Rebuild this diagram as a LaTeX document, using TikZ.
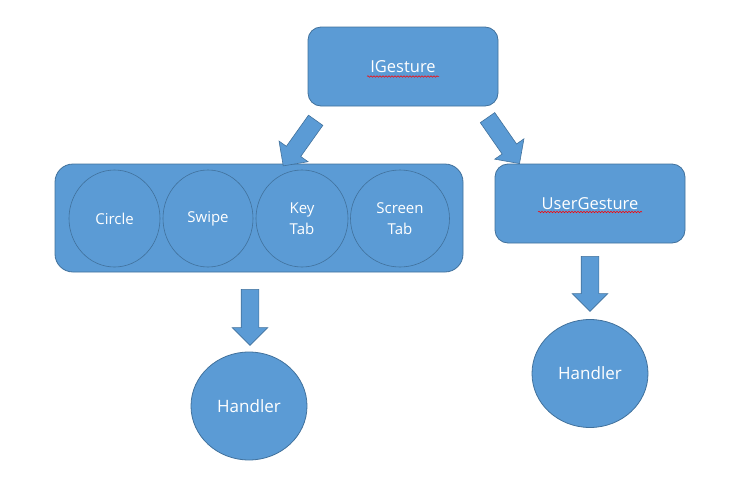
\documentclass[tikz,border=0pt]{standalone}
\usepackage{fontspec}
\setmainfont{Open Sans}
\usetikzlibrary{shapes.arrows,shapes.geometric,decorations.pathmorphing}
\definecolor{boxblue}{HTML}{5B9BD5}
\definecolor{edgeblue}{HTML}{41719C}

\begin{document}
\begin{tikzpicture}[x=1pt, y=-1pt,
		box/.style={draw=edgeblue, fill=boxblue, line width=0.8pt, rounded corners=13pt,
			inner sep=0pt, text=white, font=\fontsize{16.5}{18}\selectfont},
		gest/.style={ellipse, draw=edgeblue, line width=0.6pt, inner sep=0pt, minimum height=97pt,
			text=white, align=center, font=\fontsize{15}{21}\selectfont},
		handler/.style={ellipse, draw=edgeblue, fill=boxblue, line width=0.8pt, inner sep=0pt,
			minimum width=116pt, minimum height=108pt, text=white, font=\fontsize{17}{18}\selectfont},
		fatarrow/.style={single arrow, draw=edgeblue, fill=boxblue, line width=0.6pt,
			inner xsep=0pt, inner ysep=8.5pt, single arrow head extend=9pt, minimum height=56pt,
			midway, sloped, allow upside down},
		squiggle/.style={red, line width=0.5pt, decorate,
			decoration={snake, amplitude=0.8pt, segment length=3pt}}]
	\useasboundingbox (0,0) rectangle (745,485);

	% boxes
	\node[box, minimum width=190pt, minimum height=79pt] (ig) at (403,66.5) {IGesture};
	\node[box, minimum width=408pt, minimum height=108pt, rounded corners=18pt] (grp) at (259,218) {};
	\node[box, minimum width=190pt, minimum height=79pt] (ug) at (590,203.5) {UserGesture};
	\draw[squiggle] ([xshift=-36pt, yshift=-10pt]ig.center) -- ([xshift=36pt, yshift=-10pt]ig.center);
	\draw[squiggle] ([xshift=-52pt, yshift=-8.5pt]ug.center) -- ([xshift=52pt, yshift=-8.5pt]ug.center);

	% gestures inside the group
	\node[gest, minimum width=91pt] (circ) at (114.5,218.5) {Circle};
	\node[gest, minimum width=90pt] (swipe) at (208,218.5) {Swipe};
	\node[gest, minimum width=92pt] (keytab) at (302,218.5) {Key\\Tab};
	\node[gest, minimum width=99pt] (scrtab) at (400,218.5) {Screen\\Tab};

	% handlers
	\node[handler] (hl) at (249,406) {Handler};
	\node[handler] (hr) at (590,373.5) {Handler};

	% block arrows
	\coordinate (t1) at (318,117);   \coordinate (h1) at (286,162);
	\coordinate (t2) at (485,114);   \coordinate (h2) at (517,160);
	\coordinate (t3) at (250,285);   \coordinate (h3) at (250,341);
	\coordinate (t4) at (590,252);   \coordinate (h4) at (590,307);
	\path (t1) -- (h1) node[fatarrow] (a1) {};
	\path (t2) -- (h2) node[fatarrow] (a2) {};
	\path (t3) -- (h3) node[fatarrow] (a3) {};
	\path (t4) -- (h4) node[fatarrow, minimum height=55pt] (a4) {};
\end{tikzpicture}
\end{document}
